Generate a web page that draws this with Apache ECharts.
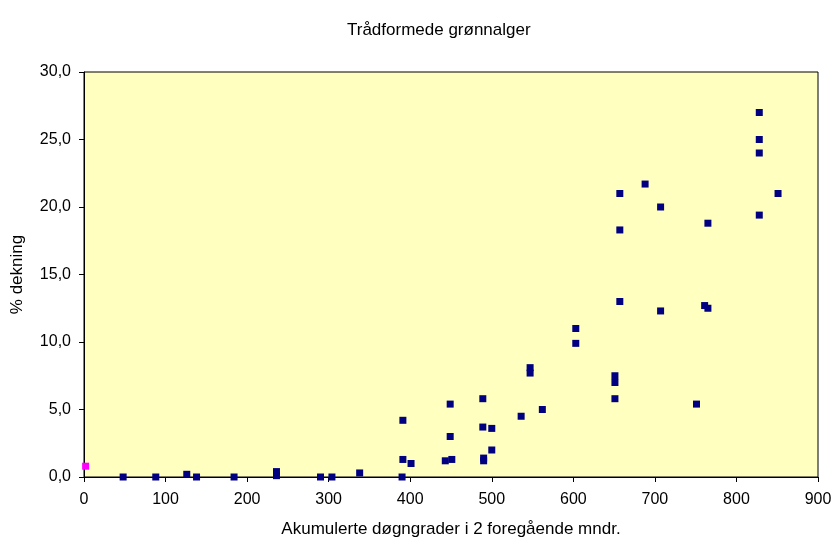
<!DOCTYPE html>
<html><head><meta charset="utf-8">
<script src="https://cdn.jsdelivr.net/npm/echarts@6/dist/echarts.min.js"></script>
<style>html,body{margin:0;padding:0;background:#fff}#c{width:834px;height:538px}</style>
</head><body><div id="c"></div>
<script>
var title = "Trådformede grønnalger";
var xName = "Akumulerte døgngrader i 2 foregående mndr.";
var yName = "% dekning";
var mainX = [48,88,126,138,184,236,236,290,304,338,390,391,391,401,443,449,449,451,489,489,490,490,500,500,536,547,547,562,603,603,651,651,651,657,657,657,688,707,707,751,761,765,765,828,828,828,828,851];
var mainY = [0,0,0.2,0,0,0.1,0.4,0,0,0.3,0,4.2,1.3,1.0,1.2,5.4,3.0,1.3,5.8,3.7,1.2,1.4,3.6,2.0,4.5,8.1,7.7,5.0,11.0,9.9,7.5,7.0,5.8,13.0,21.0,18.3,21.7,20.0,12.3,5.4,12.7,12.5,18.8,27.0,25.0,24.0,19.4,21.0];
var pinkX = [2];
var pinkY = [0.8];

function pairs(xs, ys){ return xs.map(function(x,i){return [x, ys[i]];}); }
var font = 'Liberation Sans, Arial, sans-serif';
var chart = echarts.init(document.getElementById('c'), null, {renderer:'canvas'});
chart.setOption({
  animation:false,
  backgroundColor:'#ffffff',
  title:{text:title, left:342, top:17, textStyle:{fontFamily:font, fontSize:17, fontWeight:'normal', color:'#000'}},
  grid:{left:84, top:72, right:16, bottom:61, show:true, outerBoundsMode:'none', containLabel:false,
    backgroundColor:'#FFFFC0', borderColor:'#000', borderWidth:1},
  xAxis:{type:'value', min:0, max:900, interval:100,
    name:xName, nameLocation:'middle', nameGap:44,
    nameTextStyle:{fontFamily:font, fontSize:17, color:'#000'},
    axisLine:{show:true, lineStyle:{color:'#000'}},
    axisTick:{show:true, inside:false, length:5, lineStyle:{color:'#000'}},
    axisLabel:{fontFamily:font, fontSize:16, color:'#000', margin:15},
    splitLine:{show:false}},
  yAxis:{type:'value', min:0, max:30, interval:5,
    name:yName, nameLocation:'middle', nameGap:58, nameRotate:90,
    nameTextStyle:{fontFamily:font, fontSize:17, color:'#000'},
    axisLine:{show:true, lineStyle:{color:'#000'}},
    axisTick:{show:true, inside:false, length:5, lineStyle:{color:'#000'}},
    axisLabel:{fontFamily:font, fontSize:16, color:'#000', margin:13,
      formatter:function(v){return v.toFixed(1).replace('.', ',');}},
    splitLine:{show:false}},
  series:[
    {type:'scatter', symbol:'rect', symbolSize:7, itemStyle:{color:'#000080', opacity:1}, data:pairs(mainX, mainY)},
    {type:'scatter', symbol:'rect', symbolSize:7, itemStyle:{color:'#FF00FF', opacity:1}, data:pairs(pinkX, pinkY)}
  ]
});
</script></body></html>
